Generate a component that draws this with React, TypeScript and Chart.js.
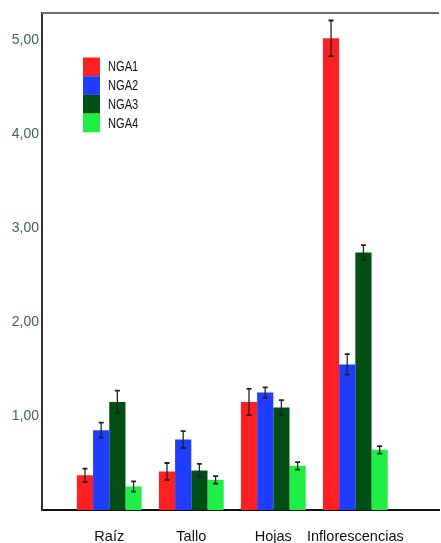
import React, { useEffect, useRef } from "react";
import { Chart, registerables } from "chart.js";

Chart.register(...registerables);

const categories = ["Raíz", "Tallo", "Hojas", "Inflorescencias"];
const seriesNames = ["NGA1", "NGA2", "NGA3", "NGA4"];
const seriesColors = ["#ff2121", "#1f3dff", "#004f14", "#1fee45"];
const nga1 = [0.37, 0.41, 1.15, 5.02];
const nga2 = [0.85, 0.75, 1.25, 1.55];
const nga3 = [1.15, 0.42, 1.09, 2.74];
const nga4 = [0.25, 0.32, 0.47, 0.64];
const nga1Err = [0.07, 0.09, 0.14, 0.19];
const nga2Err = [0.08, 0.09, 0.055, 0.11];
const nga3Err = [0.12, 0.07, 0.08, 0.08];
const nga4Err = [0.055, 0.04, 0.04, 0.04];
const yTicks = [1, 2, 3, 4, 5];

const seriesValues = [nga1, nga2, nga3, nga4];
const seriesErrors = [nga1Err, nga2Err, nga3Err, nga4Err];

const errorBarPlugin = {
  id: "errorBars",
  afterDatasetsDraw(chart: any) {
    const ctx = chart.ctx;
    const yScale = chart.scales.y;
    ctx.save();
    ctx.strokeStyle = "#222";
    chart.data.datasets.forEach((ds: any, di: number) => {
      const meta = chart.getDatasetMeta(di);
      meta.data.forEach((bar: any, i: number) => {
        const v = ds.data[i].y;
        const e = ds.errors[i];
        const top = yScale.getPixelForValue(v + e);
        const bot = yScale.getPixelForValue(v - e);
        ctx.lineWidth = 1.3;
        ctx.beginPath();
        ctx.moveTo(bar.x, top);
        ctx.lineTo(bar.x, bot);
        ctx.stroke();
        ctx.lineWidth = 1.8;
        ctx.beginPath();
        ctx.moveTo(bar.x - 2.5, top);
        ctx.lineTo(bar.x + 2.5, top);
        ctx.moveTo(bar.x - 2.5, bot);
        ctx.lineTo(bar.x + 2.5, bot);
        ctx.stroke();
      });
    });
    ctx.restore();
  },
};

const framePlugin = {
  id: "frameTop",
  afterDraw(chart: any) {
    const { ctx, chartArea } = chart;
    ctx.save();
    ctx.strokeStyle = "#6e6e6e";
    ctx.lineWidth = 2;
    ctx.beginPath();
    ctx.moveTo(chartArea.left, chartArea.top);
    ctx.lineTo(chartArea.right, chartArea.top);
    ctx.stroke();
    ctx.restore();
  },
};

const legendPlugin = {
  id: "innerLegend",
  afterDraw(chart: any) {
    const { ctx, chartArea } = chart;
    const x0 = chartArea.left + 41;
    const y0 = chartArea.top + 44.5;
    const bw = 17;
    const bh = 18.7;
    ctx.save();
    ctx.textBaseline = "middle";
    ctx.textAlign = "left";
    chart.data.datasets.forEach((ds: any, i: number) => {
      ctx.fillStyle = ds.backgroundColor;
      ctx.fillRect(x0, y0 + i * bh, bw, bh);
      ctx.save();
      ctx.translate(x0 + bw + 8, y0 + i * bh + bh / 2 + 0.5);
      ctx.scale(0.74, 1);
      ctx.font = "15px 'Liberation Sans', Arial, sans-serif";
      ctx.fillStyle = "#111";
      ctx.fillText(ds.label, 0, 0);
      ctx.restore();
    });
    ctx.restore();
  },
};

export default function App() {
  const ref = useRef<HTMLCanvasElement>(null);
  useEffect(() => {
    document.body.style.margin = "0";
    if (!ref.current) return;
    const chart = new Chart(ref.current, {
      type: "bar",
      data: {
        datasets: seriesNames.map((name, si) => ({
          label: name,
          data: categories.map((_, i) => ({ x: i, y: seriesValues[si][i] })),
          errors: seriesErrors[si],
          backgroundColor: seriesColors[si],
          borderWidth: 0,
          categoryPercentage: 0.79,
          barPercentage: 1.0,
        })) as any,
      },
      options: {
        animation: false,
        responsive: false,
        devicePixelRatio: 1,
        layout: { padding: { top: 13, right: 2, left: 0, bottom: 0 } },
        plugins: {
          legend: { display: false },
          tooltip: { enabled: false },
        },
        scales: {
          x: {
            type: "linear",
            offset: false,
            min: -0.82,
            max: 4.02,
            grid: { display: false, drawTicks: false, offset: false },
            border: { display: true, color: "#111", width: 2 },
            afterBuildTicks: (scale: any) => {
              scale.ticks = categories.map((_, i) => ({ value: i }));
            },
            afterFit: (scale: any) => {
              scale.height = 33;
            },
            ticks: {
              padding: 18,
              color: "#111",
              font: { family: "'Liberation Sans', Arial, sans-serif", size: 14.5 },
              callback: (v: any) => categories[v] ?? "",
              autoSkip: false,
              maxRotation: 0,
            },
          },
          y: {
            type: "linear",
            min: 0,
            max: 5.29,
            grid: { display: false, drawTicks: false },
            border: { display: true, color: "#333", width: 2 },
            afterBuildTicks: (scale: any) => {
              scale.ticks = yTicks.map((v) => ({ value: v }));
            },
            afterFit: (scale: any) => {
              scale.width = 42;
            },
            ticks: {
              padding: 3,
              color: "#3a6848",
              font: { family: "'Liberation Sans', Arial, sans-serif", size: 14 },
              callback: (v: any) => Number(v).toFixed(2).replace(".", ","),
            },
          },
        },
      },
      plugins: [errorBarPlugin, framePlugin, legendPlugin],
    });
    return () => chart.destroy();
  }, []);
  return <canvas ref={ref} width={441} height={543} style={{ display: "block" }} />;
}
